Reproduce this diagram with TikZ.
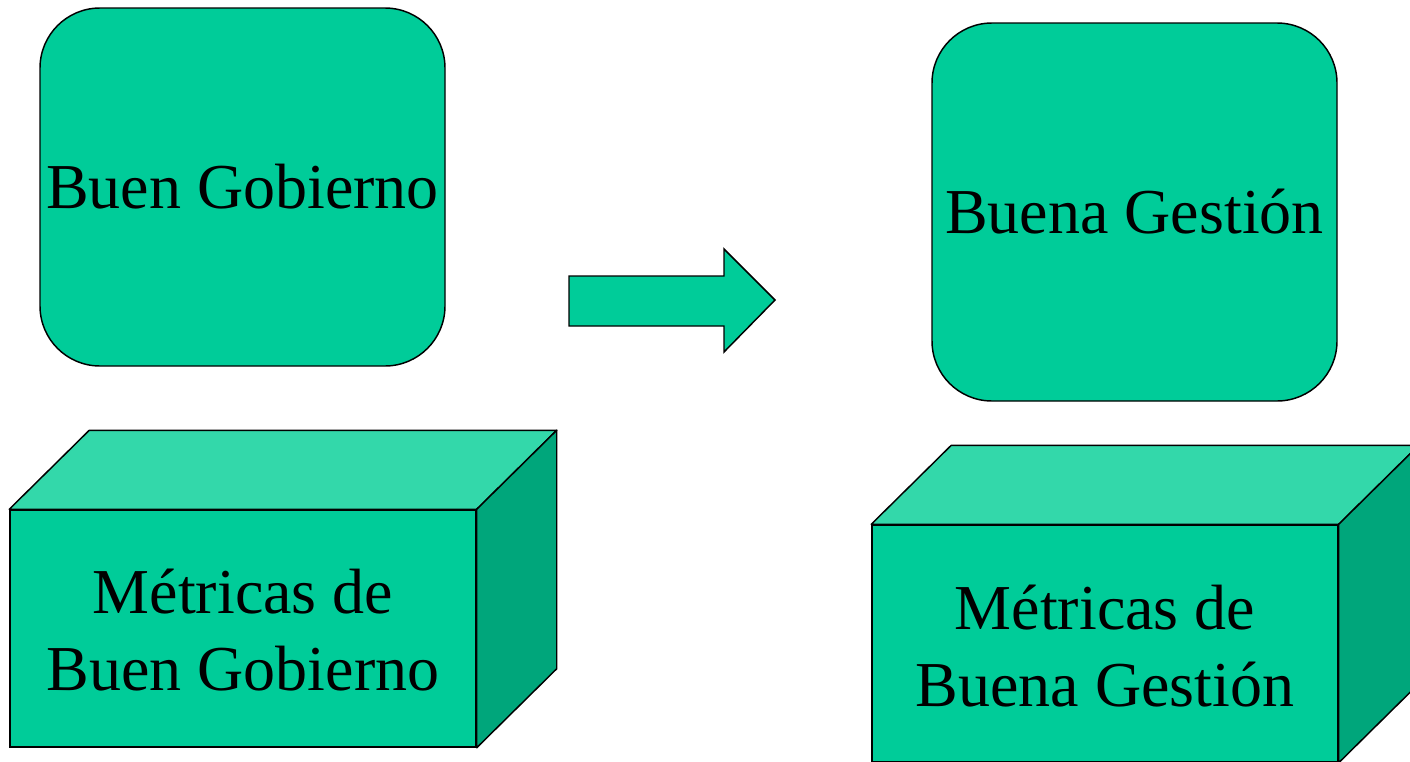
\documentclass[tikz,border=0pt]{standalone}
\usepackage{fontspec}
\setmainfont{Liberation Serif}
\definecolor{mint}{RGB}{0,204,153}
\definecolor{minttop}{RGB}{51,216,170}
\definecolor{mintside}{RGB}{0,166,123}
\begin{document}
\begin{tikzpicture}[x=0.75pt,y=-0.75pt,
  txt/.style={font=\fontsize{48}{57.6}\selectfont, text=black, align=center, inner sep=0pt},
  rbox/.style={txt, draw=black, line width=1.1pt, fill=mint, rounded corners=45pt},
  front/.style={txt, draw=black, line width=1.1pt, fill=mint},
  face/.style={draw=black, line width=1.1pt, line join=round},
  arrowshape/.style={draw=black, line width=1.1pt, fill=mint, line join=miter}]
\useasboundingbox (0,0) rectangle (1410,761);
\clip (0,0) rectangle (1410,761);
% rounded boxes
\node[rbox, minimum width=303.75pt, minimum height=268.5pt] (bg) at (242.5,187) {Buen Gobierno};
\node[rbox, minimum width=303.75pt, minimum height=283.5pt] (bgest) at (1134.5,212) {Buena Gestión};
% arrow
\draw[arrowshape] (569,276) -- (724,276) -- (724,249) -- (775,300) -- (724,352) -- (724,326) -- (569,326) -- cycle;
% cuboid 1
\node[front, minimum width=349.5pt, minimum height=177.75pt] (m1) at (243,628.5) {};
\filldraw[face, fill=minttop] (m1.north west) -- ++(80,-79) -- ([shift={(80,-79)}]m1.north east) -- (m1.north east) -- cycle;
\filldraw[face, fill=mintside] (m1.north east) -- ++(80,-79) -- ([shift={(80,-79)}]m1.south east) -- (m1.south east) -- cycle;
\node[txt] (m1t) at (243,630) {Métricas de\\Buen Gobierno};
% cuboid 2
\node[front, minimum width=349.5pt, minimum height=177.75pt] (m2) at (1105,643.5) {};
\filldraw[face, fill=minttop] (m2.north west) -- ++(80,-79) -- ([shift={(80,-79)}]m2.north east) -- (m2.north east) -- cycle;
\filldraw[face, fill=mintside] (m2.north east) -- ++(80,-79) -- ([shift={(80,-79)}]m2.south east) -- (m2.south east) -- cycle;
\node[txt] (m2t) at (1105,646) {Métricas de\\Buena Gestión};
\end{tikzpicture}
\end{document}
